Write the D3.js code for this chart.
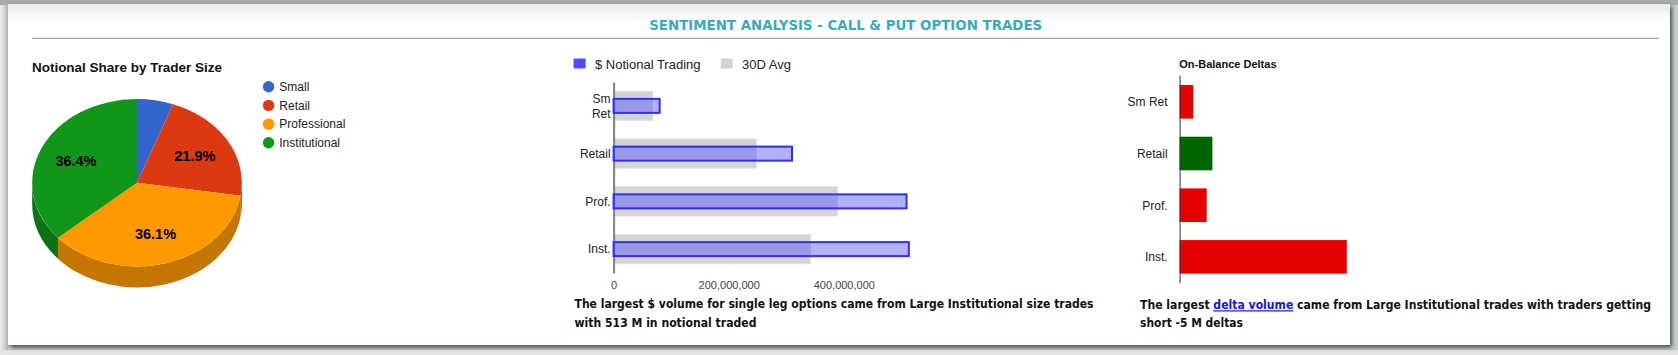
<!DOCTYPE html>
<html><head><meta charset="utf-8">
<script src="https://cdn.jsdelivr.net/npm/d3@7"></script>
<style>
html,body{margin:0;padding:0;background:#cfd2d3;overflow:hidden;}
svg{display:block;}
</style></head><body>
<svg id="c" width="1678" height="355"></svg>
<script>
// ---------- DATA ----------
const pieCategories = ["Small", "Retail", "Professional", "Institutional"];
const pieShares = [5.6, 21.9, 36.1, 36.4];
const pieColors = ["#3366cc", "#dc3912", "#ff9900", "#109618"];

const barCategories = ["Sm Ret", "Retail", "Prof.", "Inst."];
const notionalTrading = [80e6, 310e6, 509e6, 513e6];
const notionalAvg30D = [68e6, 248e6, 389e6, 342e6];
const notionalTicks = [0, 200e6, 400e6];
const barLegend = ["$ Notional Trading", "30D Avg"];

const deltaCategories = ["Sm Ret", "Retail", "Prof.", "Inst."];
const onBalanceDeltas = [-0.41, 0.98, -0.81, -5.0];   // millions of deltas

const mainTitle = "SENTIMENT ANALYSIS - CALL & PUT OPTION TRADES";
const pieTitle = "Notional Share by Trader Size";
const deltaTitle = "On-Balance Deltas";
const notionalCaption = ["The largest $ volume for single leg options came from Large Institutional size trades",
                         "with 513 M in notional traded"];
const deltaCaption = ["The largest ", "delta volume", " came from Large Institutional trades with traders getting",
                      "short -5 M deltas"];

// ---------- SETUP ----------
const svg = d3.select("#c");
const ARIAL = "'Liberation Sans', Arial, sans-serif";
const TAHOMA = "'DejaVu Sans Condensed', 'DejaVu Sans', sans-serif";

const defs = svg.append("defs");
const flt = defs.append("filter").attr("id", "sh").attr("x", "-5%").attr("y", "-10%").attr("width", "110%").attr("height", "130%");
flt.append("feDropShadow").attr("dx", 2).attr("dy", 2.5).attr("stdDeviation", 2)
  .attr("flood-color", "#2d3335").attr("flood-opacity", 0.85);
const g1 = defs.append("linearGradient").attr("id", "topg").attr("x1", 0).attr("x2", 0).attr("y1", 0).attr("y2", 1);
g1.append("stop").attr("offset", 0).attr("stop-color", "#e9eaea");
g1.append("stop").attr("offset", 1).attr("stop-color", "#ffffff");
const g2 = defs.append("linearGradient").attr("id", "leftg").attr("x1", 0).attr("x2", 1).attr("y1", 0).attr("y2", 0);
g2.append("stop").attr("offset", 0).attr("stop-color", "#eceded");
g2.append("stop").attr("offset", 1).attr("stop-color", "#b9bdbf");

// background frame
svg.append("rect").attr("x", 0).attr("y", 0).attr("width", 1678).attr("height", 355).attr("fill", "#c9cccd");
svg.append("rect").attr("x", 0).attr("y", 0).attr("width", 8).attr("height", 355).attr("fill", "url(#leftg)");
svg.append("rect").attr("x", 0).attr("y", 0).attr("width", 1678).attr("height", 5).attr("fill", "#a6abad");
svg.append("rect").attr("x", 0).attr("y", 350).attr("width", 1678).attr("height", 5).attr("fill", "#e4e6e6");
svg.append("rect").attr("x", 8).attr("y", 4).attr("width", 1662).attr("height", 341)
  .attr("fill", "#fff").attr("filter", "url(#sh)");
svg.append("rect").attr("x", 8).attr("y", 4).attr("width", 1662).attr("height", 18).attr("fill", "url(#topg)");

// main title
svg.append("text").attr("x", 845.7).attr("y", 30).attr("text-anchor", "middle")
  .attr("font-family", TAHOMA).attr("font-weight", "bold").attr("font-size", 13.6)
  .attr("fill", "#38acb8").attr("textLength", 393).attr("lengthAdjust", "spacingAndGlyphs")
  .text(mainTitle);
svg.append("line").attr("x1", 32).attr("x2", 1659).attr("y1", 38.4).attr("y2", 38.4)
  .attr("stroke", "#a2a2a2").attr("stroke-width", 1.4);

// ---------- PIE (3D) ----------
const pg = svg.append("g");
pg.append("text").attr("x", 32).attr("y", 71.7).attr("font-family", ARIAL).attr("font-weight", "bold")
  .attr("font-size", 13.5).attr("fill", "#111").attr("textLength", 190).attr("lengthAdjust", "spacing").text(pieTitle);

const cx = 137, cy = 182.7, rx = 104.8, ry = 83.7, depth = 21;
const arcs = d3.pie().sort(null).value(d => d)(pieShares);
const pt = (a, dy = 0) => [cx + rx * Math.sin(a), cy - ry * Math.cos(a) + dy];
const sidePath = d => {
  const s = Math.max(d.startAngle, Math.PI / 2), e = Math.min(d.endAngle, 3 * Math.PI / 2);
  if (s >= e) return null;
  const a = pt(s), b = pt(e), c = pt(e, depth), q = pt(s, depth);
  return `M${a}A${rx},${ry} 0 0 1 ${b}L${c}A${rx},${ry} 0 0 0 ${q}Z`;
};
const topPath = d => {
  const a = pt(d.startAngle), b = pt(d.endAngle);
  const large = (d.endAngle - d.startAngle) > Math.PI ? 1 : 0;
  return `M${cx},${cy}L${a}A${rx},${ry} 0 ${large} 1 ${b}Z`;
};
pg.selectAll("path.side").data(arcs.filter(d => sidePath(d))).enter().append("path")
  .attr("class", "side").attr("d", sidePath).attr("fill", d => d3.rgb(pieColors[d.index]).darker(0.74));
pg.selectAll("path.top").data(arcs).enter().append("path")
  .attr("class", "top").attr("d", topPath).attr("fill", d => pieColors[d.index]);
pg.selectAll("text.lbl").data(arcs.filter(d => d.data > 10)).enter().append("text")
  .attr("class", "lbl")
  .attr("x", d => cx + 0.64 * rx * Math.sin((d.startAngle + d.endAngle) / 2))
  .attr("y", d => cy - 0.64 * ry * Math.cos((d.startAngle + d.endAngle) / 2) + 5)
  .attr("text-anchor", "middle").attr("font-family", ARIAL).attr("font-weight", "bold")
  .attr("font-size", 14.5).attr("fill", "#000").text(d => d.data.toFixed(1) + "%");

const pl = pg.selectAll("g.leg").data(pieCategories).enter().append("g")
  .attr("class", "leg").attr("transform", (d, i) => `translate(268.6,${86.7 + i * 18.7})`);
pl.append("circle").attr("r", 5.7).attr("fill", (d, i) => pieColors[i]);
pl.append("text").attr("x", 10.7).attr("y", 4.3).attr("font-family", ARIAL).attr("font-size", 12)
  .attr("fill", "#222").text(d => d);

// ---------- NOTIONAL BAR CHART ----------
const bg = svg.append("g");
const xN = d3.scaleLinear().domain([0, 600e6]).range([613.6, 958.9]);
const yN = d3.scaleBand().domain(barCategories).range([82, 273]).paddingInner(0.386).paddingOuter(0.193);

const legCols = ["#4d4dff", "#d3d3d3"];
const legX = [573.6, 720.7];
barLegend.forEach((t, i) => {
  bg.append("rect").attr("x", legX[i]).attr("y", 58.5).attr("width", 12).attr("height", 10).attr("fill", legCols[i]);
  bg.append("text").attr("x", legX[i] + 21.4).attr("y", 69).attr("font-family", ARIAL).attr("font-size", 13)
    .attr("fill", "#222").text(t);
});

bg.selectAll("rect.avg").data(notionalAvg30D).enter().append("rect")
  .attr("class", "avg")
  .attr("x", xN(0)).attr("y", (d, i) => yN(barCategories[i]))
  .attr("width", d => xN(d) - xN(0)).attr("height", yN.bandwidth())
  .attr("fill", "#d4d4d4").attr("stroke", "#e2e2e2").attr("stroke-width", 1);

const axL = bg.append("g").attr("transform", `translate(${xN(0)},0)`)
  .call(d3.axisLeft(yN).tickSize(0).tickPadding(3));
axL.select(".domain").attr("stroke", "#808080").attr("stroke-width", 2);
axL.selectAll("text").attr("font-family", ARIAL).attr("font-size", 12).attr("fill", "#222").attr("dy", "0.36em")
  .each(function (d) {
    const w = d.split(" ");
    if (w.length > 1) {
      const t = d3.select(this).text(null).attr("dy", null);
      t.append("tspan").attr("x", -3).attr("y", -3.2).text(w[0]);
      t.append("tspan").attr("x", -3).attr("y", 11.8).text(w[1]);
    }
  });

const bh = 14;
bg.selectAll("rect.cur").data(notionalTrading).enter().append("rect")
  .attr("class", "cur")
  .attr("x", xN(0)).attr("y", (d, i) => yN(barCategories[i]) + yN.bandwidth() / 2 - bh / 2)
  .attr("width", d => xN(d) - xN(0)).attr("height", bh)
  .attr("fill", "#4d4dff").attr("fill-opacity", 0.44)
  .attr("stroke", "#2f2ff0").attr("stroke-width", 2);

const axB = bg.append("g").attr("transform", "translate(0,281)")
  .call(d3.axisBottom(xN).tickValues(notionalTicks).tickFormat(d3.format(",")).tickSize(0).tickPadding(0));
axB.select(".domain").remove();
axB.selectAll("text").attr("y", 8).attr("dy", null).attr("font-family", ARIAL).attr("font-size", 11).attr("fill", "#444");

const cap1 = bg.append("text").attr("font-family", TAHOMA).attr("font-weight", "bold").attr("font-size", 12)
  .attr("fill", "#111");
cap1.append("tspan").attr("x", 574.5).attr("y", 308).attr("textLength", 519).attr("lengthAdjust", "spacingAndGlyphs").text(notionalCaption[0]);
cap1.append("tspan").attr("x", 574.5).attr("y", 327).attr("textLength", 182).attr("lengthAdjust", "spacingAndGlyphs").text(notionalCaption[1]);

// ---------- ON-BALANCE DELTAS ----------
const dg = svg.append("g");
const xD = d3.scaleLinear().domain([0, 14]).range([1179.6, 1647.8]);
const yD = d3.scaleBand().domain(deltaCategories).range([76, 282.7]).paddingInner(0.35).paddingOuter(0.175);

dg.append("text").attr("x", 1179.3).attr("y", 67.7).attr("font-family", ARIAL).attr("font-weight", "bold")
  .attr("font-size", 11).attr("fill", "#111").text(deltaTitle);

dg.selectAll("rect.d").data(onBalanceDeltas).enter().append("rect")
  .attr("class", "d")
  .attr("x", xD(0)).attr("y", (d, i) => yD(deltaCategories[i]))
  .attr("width", d => xD(Math.abs(d)) - xD(0)).attr("height", yD.bandwidth())
  .attr("fill", d => d < 0 ? "#e60000" : "#006600");

const axD = dg.append("g").attr("transform", `translate(${xD(0)},0)`)
  .call(d3.axisLeft(yD).tickSize(0).tickPadding(12).tickSizeOuter(0));
axD.select(".domain").attr("d", "M0.5,75.7V283.3").attr("stroke", "#333").attr("stroke-width", 1);
axD.selectAll("text").attr("font-family", ARIAL).attr("font-size", 12).attr("fill", "#222").attr("dy", "0.38em");

const cap2 = dg.append("text").attr("font-family", TAHOMA).attr("font-weight", "bold").attr("font-size", 12)
  .attr("fill", "#111");
const l1 = cap2.append("tspan").attr("x", 1140).attr("y", 309.3).attr("textLength", 511).attr("lengthAdjust", "spacingAndGlyphs");
l1.append("tspan").text(deltaCaption[0]);
l1.append("tspan").attr("fill", "#1414e6").style("text-decoration", "underline").text(deltaCaption[1]);
l1.append("tspan").text(deltaCaption[2]);
cap2.append("tspan").attr("x", 1140).attr("y", 327.3).attr("textLength", 103).attr("lengthAdjust", "spacingAndGlyphs").text(deltaCaption[3]);
</script>
</body></html>
